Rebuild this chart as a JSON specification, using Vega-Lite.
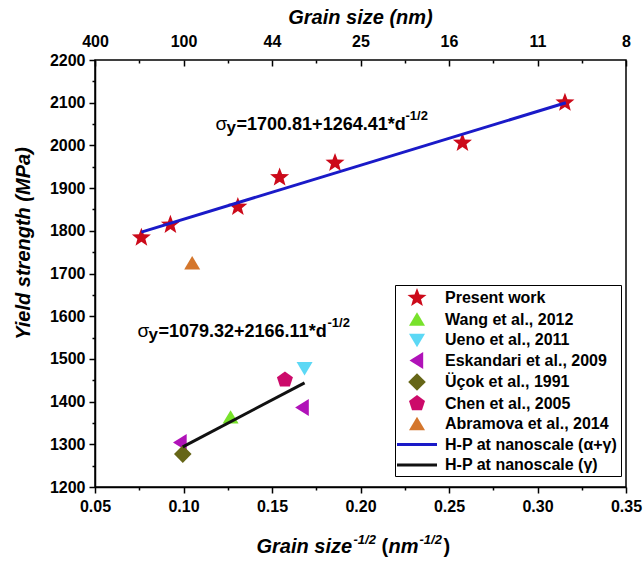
{
  "$schema": "https://vega.github.io/schema/vega-lite/v6.json",
  "width": 531,
  "height": 427,
  "autosize": {"type": "none"},
  "padding": {"left": 95, "top": 60, "right": 17, "bottom": 74},
  "background": "white",
  "datasets": {
    "pts": [
      {"series": "Present work", "x": 0.0762, "y": 1784},
      {"series": "Present work", "x": 0.0926, "y": 1814},
      {"series": "Present work", "x": 0.1307, "y": 1856},
      {"series": "Present work", "x": 0.1543, "y": 1925},
      {"series": "Present work", "x": 0.1856, "y": 1959},
      {"series": "Present work", "x": 0.2576, "y": 2006},
      {"series": "Present work", "x": 0.3155, "y": 2100},
      {"series": "Wang et al., 2012", "x": 0.1266, "y": 1363},
      {"series": "Ueno et al., 2011", "x": 0.1684, "y": 1478},
      {"series": "Eskandari et al., 2009", "x": 0.0983, "y": 1304},
      {"series": "Eskandari et al., 2009", "x": 0.1673, "y": 1386},
      {"series": "Üçok et al., 1991", "x": 0.0996, "y": 1277},
      {"series": "Chen et al., 2005", "x": 0.1573, "y": 1451},
      {"series": "Abramova et al., 2014", "x": 0.1049, "y": 1724}
    ],
    "lines": [
      {"series": "H-P at nanoscale (α+γ)", "x": 0.0762, "y": 1797},
      {"series": "H-P at nanoscale (α+γ)", "x": 0.316, "y": 2100},
      {"series": "H-P at nanoscale (γ)", "x": 0.0996, "y": 1294},
      {"series": "H-P at nanoscale (γ)", "x": 0.1684, "y": 1444}
    ],
    "eqs": [
      {"x": 0.1181, "y": 2037, "main": "=1700.81+1264.41*d"},
      {"x": 0.074, "y": 1552, "main": "=1079.32+2166.11*d"}
    ]
  },
  "resolve": {"axis": {"x": "independent", "y": "independent"}},
  "layer": [
    {
      "data": {"name": "pts"},
      "transform": [{"filter": "datum.series == 'Present work'"}],
      "mark": {"type": "point", "filled": true, "opacity": 1, "size": 400},
      "encoding": {
        "x": {"field": "x", "type": "quantitative", "scale": {"domain": [0.05, 0.35], "nice": false, "zero": false},
          "axis": {"orient": "bottom", "values": [0.05, 0.1, 0.15, 0.2, 0.25, 0.3, 0.35], "format": ".2f", "tickSize": 6, "labelPadding": 5, "labelFlush": false,
            "title": "Grain size", "titleX": 161, "titleY": 65, "titleAlign": "left", "titleBaseline": "alphabetic"}},
        "y": {"field": "y", "type": "quantitative", "scale": {"domain": [1200, 2200], "nice": false, "zero": false},
          "axis": {"orient": "left", "values": [1200, 1300, 1400, 1500, 1600, 1700, 1800, 1900, 2000, 2100, 2200], "format": "d", "tickSize": 6, "labelPadding": 4, "labelFlush": false,
            "title": "Yield strength (MPa)", "titleAngle": -90, "titleX": -66, "titleY": 183, "titleAlign": "center", "titleBaseline": "alphabetic"}},
        "color": {"field": "series", "type": "nominal",
          "scale": {"domain": ["Present work", "Wang et al., 2012", "Ueno et al., 2011", "Eskandari et al., 2009", "Üçok et al., 1991", "Chen et al., 2005", "Abramova et al., 2014", "H-P at nanoscale (α+γ)", "H-P at nanoscale (γ)"],
            "range": ["#cc0a1a", "#78e22b", "#5cd8f5", "#b012b8", "#666617", "#cc0a6a", "#d4762c", "#1a1ac8", "#111111"]},
          "legend": {"title": null}},
        "shape": {"field": "series", "type": "nominal",
          "scale": {"domain": ["Present work", "Wang et al., 2012", "Ueno et al., 2011", "Eskandari et al., 2009", "Üçok et al., 1991", "Chen et al., 2005", "Abramova et al., 2014", "H-P at nanoscale (α+γ)", "H-P at nanoscale (γ)"],
            "range": [
              "M0,-1L0.247,-0.34L0.951,-0.309L0.399,0.13L0.588,0.809L0,0.42L-0.588,0.809L-0.399,0.13L-0.951,-0.309L-0.247,-0.34Z",
              "M0,-0.72L0.8,0.62L-0.8,0.62Z",
              "M0,0.72L0.8,-0.62L-0.8,-0.62Z",
              "M-0.75,0L0.62,-0.85L0.62,0.85Z",
              "M0,-0.88L0.88,0L0,0.88L-0.88,0Z",
              "M0,-0.84L0.8,-0.26L0.494,0.68L-0.494,0.68L-0.8,-0.26Z",
              "M0,-0.72L0.8,0.62L-0.8,0.62Z",
              "M-2,-0.15L2,-0.15L2,0.15L-2,0.15Z",
              "M-2,-0.15L2,-0.15L2,0.15L-2,0.15Z"
            ]},
          "legend": {"title": null}}
      }
    },
    {
      "data": {"name": "pts"},
      "transform": [{"filter": "datum.series == 'Wang et al., 2012'"}],
      "mark": {"type": "point", "filled": true, "opacity": 1, "size": 400},
      "encoding": {
        "x": {"field": "x", "type": "quantitative", "scale": {"domain": [0.05, 0.35], "nice": false, "zero": false},
          "axis": {"orient": "bottom", "values": [0.075, 0.125, 0.175, 0.225, 0.275, 0.325], "tickSize": 3, "labels": false, "domain": false, "title": null}},
        "y": {"field": "y", "type": "quantitative", "scale": {"domain": [1200, 2200], "nice": false, "zero": false},
          "axis": {"orient": "left", "values": [1250, 1350, 1450, 1550, 1650, 1750, 1850, 1950, 2050, 2150], "tickSize": 3, "labels": false, "domain": false, "title": null}},
        "color": {"field": "series", "type": "nominal"},
        "shape": {"field": "series", "type": "nominal"}
      }
    },
    {
      "data": {"name": "pts"},
      "transform": [{"filter": "datum.series == 'Ueno et al., 2011'"}],
      "mark": {"type": "point", "filled": true, "opacity": 1, "size": 400},
      "encoding": {
        "x": {"field": "x", "type": "quantitative", "scale": {"domain": [0.05, 0.35], "nice": false, "zero": false},
          "axis": {"orient": "top", "values": [0.05, 0.1, 0.15, 0.2, 0.25, 0.3, 0.35], "labelExpr": "format(1/(datum.value*datum.value), '.0f')", "ticks": false, "domain": false, "labelPadding": 11, "labelFlush": false,
            "title": "Grain size (nm)", "titleX": 265, "titleY": -37, "titleAlign": "center", "titleBaseline": "alphabetic"}},
        "y": {"field": "y", "type": "quantitative", "scale": {"domain": [1200, 2200], "nice": false, "zero": false}, "axis": null},
        "color": {"field": "series", "type": "nominal"},
        "shape": {"field": "series", "type": "nominal"}
      }
    },
    {
      "data": {"name": "pts"},
      "transform": [{"filter": "datum.series == 'Eskandari et al., 2009'"}],
      "mark": {"type": "point", "filled": true, "opacity": 1, "size": 400},
      "encoding": {
        "x": {"field": "x", "type": "quantitative", "scale": {"domain": [0.05, 0.35], "nice": false, "zero": false},
          "axis": {"orient": "bottom", "offset": -427, "values": [0.05, 0.1, 0.15, 0.2, 0.25, 0.3, 0.35], "tickSize": 6, "labels": false, "domain": false, "title": null}},
        "y": {"field": "y", "type": "quantitative", "scale": {"domain": [1200, 2200], "nice": false, "zero": false}, "axis": null},
        "color": {"field": "series", "type": "nominal"},
        "shape": {"field": "series", "type": "nominal"}
      }
    },
    {
      "data": {"name": "pts"},
      "transform": [{"filter": "datum.series == 'Üçok et al., 1991'"}],
      "mark": {"type": "point", "filled": true, "opacity": 1, "size": 400},
      "encoding": {
        "x": {"field": "x", "type": "quantitative", "scale": {"domain": [0.05, 0.35], "nice": false, "zero": false},
          "axis": {"orient": "bottom", "offset": -427, "values": [0.075, 0.125, 0.175, 0.225, 0.275, 0.325], "tickSize": 3, "labels": false, "domain": false, "title": null}},
        "y": {"field": "y", "type": "quantitative", "scale": {"domain": [1200, 2200], "nice": false, "zero": false}, "axis": null},
        "color": {"field": "series", "type": "nominal"},
        "shape": {"field": "series", "type": "nominal"}
      }
    },
    {
      "data": {"name": "pts"},
      "transform": [{"filter": "datum.series == 'Chen et al., 2005'"}],
      "mark": {"type": "point", "filled": true, "opacity": 1, "size": 400},
      "encoding": {
        "x": {"field": "x", "type": "quantitative", "scale": {"domain": [0.05, 0.35], "nice": false, "zero": false},
          "axis": {"orient": "bottom", "domain": false, "ticks": false, "labels": false, "title": "-1/2", "titleFontSize": 13, "titleX": 258, "titleY": 56, "titleAlign": "left", "titleBaseline": "alphabetic"}},
        "y": {"field": "y", "type": "quantitative", "scale": {"domain": [1200, 2200], "nice": false, "zero": false}, "axis": null},
        "color": {"field": "series", "type": "nominal"},
        "shape": {"field": "series", "type": "nominal"}
      }
    },
    {
      "data": {"name": "pts"},
      "transform": [{"filter": "datum.series == 'Abramova et al., 2014'"}],
      "mark": {"type": "point", "filled": true, "opacity": 1, "size": 400},
      "encoding": {
        "x": {"field": "x", "type": "quantitative", "scale": {"domain": [0.05, 0.35], "nice": false, "zero": false},
          "axis": {"orient": "bottom", "domain": false, "ticks": false, "labels": false, "title": "(", "titleFontStyle": "normal", "titleX": 286, "titleY": 65, "titleAlign": "left", "titleBaseline": "alphabetic"}},
        "y": {"field": "y", "type": "quantitative", "scale": {"domain": [1200, 2200], "nice": false, "zero": false}, "axis": null},
        "color": {"field": "series", "type": "nominal"},
        "shape": {"field": "series", "type": "nominal"}
      }
    },
    {
      "data": {"name": "lines"},
      "transform": [{"filter": "datum.series == 'H-P at nanoscale (α+γ)'"}],
      "mark": {"type": "line", "strokeWidth": 3, "color": "#1a1ac8"},
      "encoding": {
        "x": {"field": "x", "type": "quantitative", "scale": {"domain": [0.05, 0.35], "nice": false, "zero": false},
          "axis": {"orient": "bottom", "domain": false, "ticks": false, "labels": false, "title": "nm", "titleX": 293, "titleY": 65, "titleAlign": "left", "titleBaseline": "alphabetic"}},
        "y": {"field": "y", "type": "quantitative", "scale": {"domain": [1200, 2200], "nice": false, "zero": false}, "axis": null}
      }
    },
    {
      "data": {"name": "lines"},
      "transform": [{"filter": "datum.series == 'H-P at nanoscale (γ)'"}],
      "mark": {"type": "line", "strokeWidth": 3, "color": "#111111"},
      "encoding": {
        "x": {"field": "x", "type": "quantitative", "scale": {"domain": [0.05, 0.35], "nice": false, "zero": false},
          "axis": {"orient": "bottom", "domain": false, "ticks": false, "labels": false, "title": "-1/2", "titleFontSize": 13, "titleX": 324, "titleY": 56, "titleAlign": "left", "titleBaseline": "alphabetic"}},
        "y": {"field": "y", "type": "quantitative", "scale": {"domain": [1200, 2200], "nice": false, "zero": false}, "axis": null}
      }
    },
    {
      "data": {"name": "eqs"},
      "mark": {"type": "text", "text": "σ", "font": "Liberation Sans", "fontSize": 19, "align": "left", "baseline": "alphabetic", "color": "black"},
      "encoding": {
        "x": {"field": "x", "type": "quantitative", "scale": {"domain": [0.05, 0.35], "nice": false, "zero": false},
          "axis": {"orient": "bottom", "domain": false, "ticks": false, "labels": false, "title": ")", "titleFontStyle": "normal", "titleX": 348, "titleY": 65, "titleAlign": "left", "titleBaseline": "alphabetic"}},
        "y": {"field": "y", "type": "quantitative", "scale": {"domain": [1200, 2200], "nice": false, "zero": false}, "axis": null}
      }
    },
    {
      "data": {"name": "eqs"},
      "mark": {"type": "text", "text": "y", "font": "Liberation Sans", "fontSize": 17, "fontWeight": "bold", "align": "left", "baseline": "alphabetic", "dx": 11, "dy": 3, "color": "black"},
      "encoding": {
        "x": {"field": "x", "type": "quantitative", "scale": {"domain": [0.05, 0.35], "nice": false, "zero": false}, "axis": null},
        "y": {"field": "y", "type": "quantitative", "scale": {"domain": [1200, 2200], "nice": false, "zero": false}, "axis": null}
      }
    },
    {
      "data": {"name": "eqs"},
      "mark": {"type": "text", "font": "Liberation Sans", "fontSize": 18, "fontWeight": "bold", "align": "left", "baseline": "alphabetic", "dx": 21, "color": "black"},
      "encoding": {
        "x": {"field": "x", "type": "quantitative", "scale": {"domain": [0.05, 0.35], "nice": false, "zero": false}, "axis": null},
        "y": {"field": "y", "type": "quantitative", "scale": {"domain": [1200, 2200], "nice": false, "zero": false}, "axis": null},
        "text": {"field": "main"}
      }
    },
    {
      "data": {"name": "eqs"},
      "mark": {"type": "text", "text": "-1/2", "font": "Liberation Sans", "fontSize": 13, "fontWeight": "bold", "align": "left", "baseline": "alphabetic", "dx": 190, "dy": -10, "color": "black"},
      "encoding": {
        "x": {"field": "x", "type": "quantitative", "scale": {"domain": [0.05, 0.35], "nice": false, "zero": false}, "axis": null},
        "y": {"field": "y", "type": "quantitative", "scale": {"domain": [1200, 2200], "nice": false, "zero": false}, "axis": null}
      }
    }
  ],
  "config": {
    "view": {"stroke": "black", "strokeWidth": 1.5},
    "axis": {
      "grid": false,
      "domainColor": "black", "domainWidth": 1.5,
      "tickColor": "black", "tickWidth": 1.5,
      "labelFont": "Liberation Sans", "labelFontSize": 16, "labelFontWeight": "bold", "labelColor": "black",
      "titleFont": "Liberation Sans", "titleFontSize": 20, "titleFontWeight": "bold", "titleFontStyle": "italic", "titleColor": "black"
    },
    "legend": {
      "orient": "none", "legendX": 300, "legendY": 225,
      "padding": 3, "symbolOffset": 9, "labelOffset": 18, "rowPadding": 2.5, "symbolSize": 400,
      "strokeColor": "black", "fillColor": "white", "labelLimit": 400,
      "labelFont": "Liberation Sans", "labelFontSize": 16, "labelFontWeight": "bold", "labelColor": "black",
      "symbolOpacity": 1, "symbolStrokeWidth": 0
    },
    "text": {"font": "Liberation Sans"}
  }
}
